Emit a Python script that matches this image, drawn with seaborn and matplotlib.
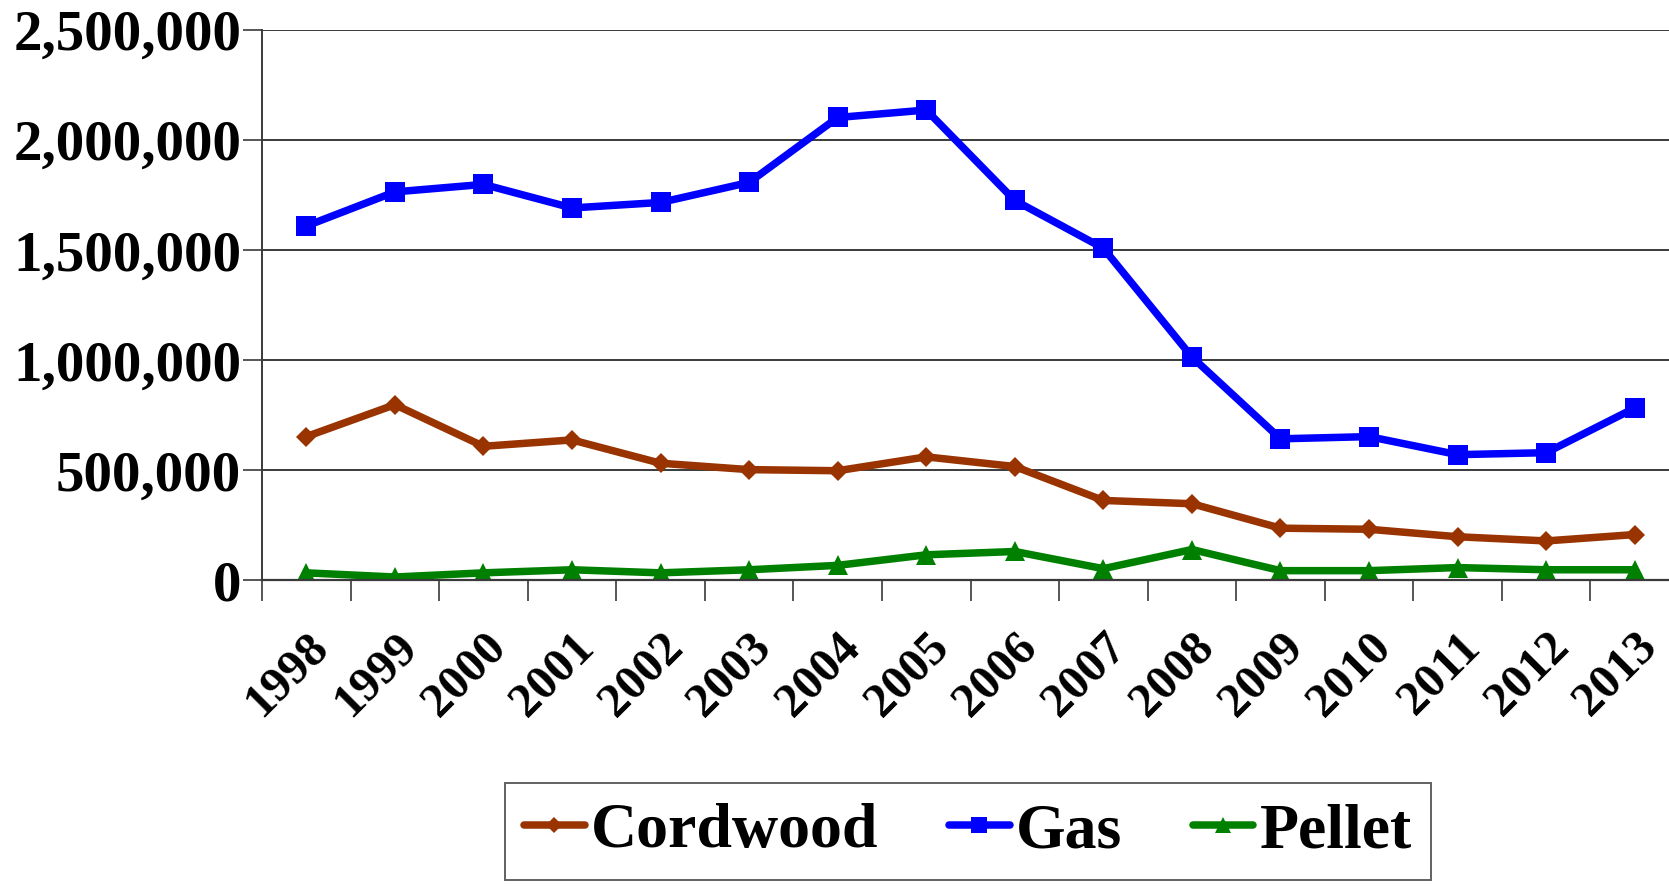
import pandas as pd
import numpy as np
import matplotlib
matplotlib.use("Agg")
import matplotlib.pyplot as plt
import seaborn as sns
from matplotlib.ticker import FuncFormatter, MultipleLocator


years = ["1998", "1999", "2000", "2001", "2002", "2003", "2004", "2005",
         "2006", "2007", "2008", "2009", "2010", "2011", "2012", "2013"]

cordwood = [653000, 798000, 609000, 638000, 532000, 503000, 498000, 561000,
            517000, 363000, 348000, 237000, 232000, 198000, 179000, 208000]
gas = [1610000, 1765000, 1799000, 1692000, 1717000, 1808000, 2103000,
       2137000, 1726000, 1509000, 1015000, 643000, 653000, 571000, 580000,
       783000]
pellet = [34000, 15000, 34000, 48000, 34000, 48000, 68000, 116000,
          131000, 53000, 140000, 44000, 44000, 58000, 48000, 48000]

series_names = ["Cordwood", "Gas", "Pellet"]
colors = {"Cordwood": "#993300", "Gas": "#0000FF", "Pellet": "#008000"}
markers = {"Cordwood": "D", "Gas": "s", "Pellet": "^"}
msizes = {"Cordwood": 10, "Gas": 14, "Pellet": 14}


def build_frame():
    rows = []
    for name, vals in zip(series_names, [cordwood, gas, pellet]):
        for i, v in enumerate(vals):
            rows.append({"pos": i, "value": v, "series": name})
    return pd.DataFrame(rows)


sns.set_theme(style="white")
plt.rcParams["font.family"] = ["Liberation Serif", "DejaVu Serif"]
plt.rcParams["font.weight"] = "bold"
plt.rcParams["text.color"] = "black"

df = build_frame()

fig = plt.figure(figsize=(16.69, 8.86), dpi=100)
ax = fig.add_axes([0.157, 0.345, 0.849, 0.621])

sns.lineplot(data=df, x="pos", y="value", hue="series", style="series",
             hue_order=series_names, style_order=series_names,
             palette=colors, markers=markers, dashes=False, linewidth=5.4,
             markersize=14, markeredgewidth=0, ax=ax, legend=False)

for line, name in zip(ax.get_lines(), series_names):
    line.set_markersize(msizes[name])

ax.set_ylim(0, 2500000)
ax.set_xlim(-0.5, 15.5)
ax.yaxis.set_major_locator(MultipleLocator(500000))
ax.yaxis.set_major_formatter(FuncFormatter(lambda v, p: f"{int(v):,}"))
ax.grid(axis="y", color="#3a3a3a", linewidth=1.4)
ax.set_axisbelow(True)

ax.set_xticks(range(len(years)))
ax.set_xticklabels(years, rotation=45, ha="right", rotation_mode="anchor")
ax.set_xticks(np.arange(-0.5, 16, 1), minor=True)
ax.tick_params(axis="x", which="major", length=0, labelsize=35, pad=32,
               labelcolor="black")
ax.tick_params(axis="x", which="minor", length=15, width=1.2,
               color="#3a3a3a", direction="out", bottom=True)
ax.tick_params(axis="y", length=14, width=1.2, color="#3a3a3a",
               direction="out", left=True, labelsize=41, pad=1,
               labelcolor="black")
for lab in ax.get_xticklabels() + ax.get_yticklabels():
    lab.set_fontweight("bold")

ax.set_xlabel("")
ax.set_ylabel("")
for side in ["top", "right"]:
    ax.spines[side].set_visible(False)
ax.spines["left"].set_color("#3a3a3a")
ax.spines["left"].set_linewidth(1.4)
ax.spines["bottom"].set_color("#3a3a3a")
ax.spines["bottom"].set_linewidth(1.6)

handles = [plt.Line2D([0], [0], color=colors[n], marker=markers[n],
                      linewidth=5.4, markersize=msizes[n] - 2,
                      markeredgewidth=0) for n in series_names]
leg = fig.legend(handles, series_names, loc="center",
                 bbox_to_anchor=(0.58, 0.061), ncol=3, frameon=True,
                 fancybox=False, edgecolor="#3a3a3a", handlelength=0.95,
                 handletextpad=0.1, columnspacing=1.1, borderpad=0.3,
                 borderaxespad=0, prop={"size": 46, "weight": "bold"})
leg.get_frame().set_linewidth(1.4)

plt.savefig("out.png", dpi=100)
plt.close()
